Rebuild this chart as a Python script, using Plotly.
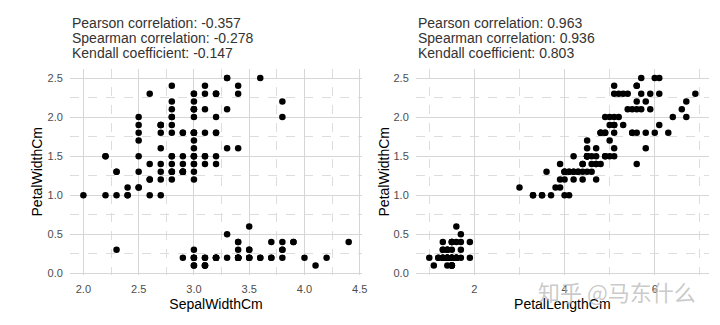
import plotly.graph_objects as go

# Iris data (UCI / Kaggle version)
sepal_width = [3.5,3.0,3.2,3.1,3.6,3.9,3.4,3.4,2.9,3.1,3.7,3.4,3.0,3.0,4.0,4.4,3.9,3.5,3.8,3.8,
               3.4,3.7,3.6,3.3,3.4,3.0,3.4,3.5,3.4,3.2,3.1,3.4,4.1,4.2,3.1,3.2,3.5,3.1,3.0,3.4,
               3.5,2.3,3.2,3.5,3.8,3.0,3.8,3.2,3.7,3.3,
               3.2,3.2,3.1,2.3,2.8,2.8,3.3,2.4,2.9,2.7,2.0,3.0,2.2,2.9,2.9,3.1,3.0,2.7,2.2,2.5,
               3.2,2.8,2.5,2.8,2.9,3.0,2.8,3.0,2.9,2.6,2.4,2.4,2.7,2.7,3.0,3.4,3.1,2.3,3.0,2.5,
               2.6,3.0,2.6,2.3,2.7,3.0,2.9,2.9,2.5,2.8,
               3.3,2.7,3.0,2.9,3.0,3.0,2.5,2.9,2.5,3.6,3.2,2.7,3.0,2.5,2.8,3.2,3.0,3.8,2.6,2.2,
               3.2,2.8,2.8,2.7,3.3,3.2,2.8,3.0,2.8,3.0,2.8,3.8,2.8,2.8,2.6,3.0,3.4,3.1,3.0,3.1,
               3.1,3.1,2.7,3.2,3.3,3.0,2.5,3.0,3.4,3.0]
petal_length = [1.4,1.4,1.3,1.5,1.4,1.7,1.4,1.5,1.4,1.5,1.5,1.6,1.4,1.1,1.2,1.5,1.3,1.4,1.7,1.5,
                1.7,1.5,1.0,1.7,1.9,1.6,1.6,1.5,1.4,1.6,1.6,1.5,1.5,1.4,1.5,1.2,1.3,1.5,1.3,1.5,
                1.3,1.3,1.3,1.6,1.9,1.4,1.6,1.4,1.5,1.4,
                4.7,4.5,4.9,4.0,4.6,4.5,4.7,3.3,4.6,3.9,3.5,4.2,4.0,4.7,3.6,4.4,4.5,4.1,4.5,3.9,
                4.8,4.0,4.9,4.7,4.3,4.4,4.8,5.0,4.5,3.5,3.8,3.7,3.9,5.1,4.5,4.5,4.7,4.4,4.1,4.0,
                4.4,4.6,4.0,3.3,4.2,4.2,4.2,4.3,3.0,4.1,
                6.0,5.1,5.9,5.6,5.8,6.6,4.5,6.3,5.8,6.1,5.1,5.3,5.5,5.0,5.1,5.3,5.5,6.7,6.9,5.0,
                5.7,4.9,6.7,4.9,5.7,6.0,4.8,4.9,5.6,5.8,6.1,6.4,5.6,5.1,5.6,6.1,5.6,5.5,4.8,5.4,
                5.6,5.1,5.1,5.9,5.7,5.2,5.0,5.2,5.4,5.1]
petal_width = [0.2,0.2,0.2,0.2,0.2,0.4,0.3,0.2,0.2,0.1,0.2,0.2,0.1,0.1,0.2,0.4,0.4,0.3,0.3,0.3,
               0.2,0.4,0.2,0.5,0.2,0.2,0.4,0.2,0.2,0.2,0.2,0.4,0.1,0.2,0.1,0.2,0.2,0.1,0.2,0.2,
               0.3,0.3,0.2,0.6,0.4,0.3,0.2,0.2,0.2,0.2,
               1.4,1.5,1.5,1.3,1.5,1.3,1.6,1.0,1.3,1.4,1.0,1.5,1.0,1.4,1.3,1.4,1.5,1.0,1.5,1.1,
               1.8,1.3,1.5,1.2,1.3,1.4,1.4,1.7,1.5,1.0,1.1,1.0,1.2,1.6,1.5,1.6,1.5,1.3,1.3,1.3,
               1.2,1.4,1.2,1.0,1.3,1.2,1.3,1.3,1.1,1.3,
               2.5,1.9,2.1,1.8,2.2,2.1,1.7,1.8,1.8,2.5,2.0,1.9,2.1,2.0,2.4,2.3,1.8,2.2,2.3,1.5,
               2.3,2.0,2.0,1.8,2.1,1.8,1.8,1.8,2.1,1.6,1.9,2.0,2.2,1.5,1.4,2.3,2.4,1.8,1.8,2.1,
               2.4,2.3,1.9,2.3,2.5,2.3,1.9,2.0,2.3,1.8]

left_stats = ["Pearson correlation: -0.357", "Spearman correlation: -0.278", "Kendall coefficient: -0.147"]
right_stats = ["Pearson correlation: 0.963", "Spearman correlation: 0.936", "Kendall coefficient: 0.803"]
watermark = "知乎 @马东什么"

FONT = "Liberation Sans, Arial, sans-serif"
W, H = 720, 325
ytop, ybot = 69.5, 278.3
ydom = [(H - ybot) / H, (H - ytop) / H]
x1dom = [70.6 / W, 364.5 / W]
x2dom = [418.9 / W, 713.6 / W]

fig = go.Figure()
fig.add_trace(go.Scatter(x=sepal_width, y=petal_width, mode="markers",
                         marker=dict(color="black", size=6.5), xaxis="x", yaxis="y",
                         showlegend=False, hoverinfo="skip"))
fig.add_trace(go.Scatter(x=petal_length, y=petal_width, mode="markers",
                         marker=dict(color="black", size=6.5), xaxis="x2", yaxis="y2",
                         showlegend=False, hoverinfo="skip"))

major = "#d6d6d6"
minorc = "#dddddd"
common = dict(showline=False, zeroline=False, showgrid=True, gridcolor=major, gridwidth=1,
              ticks="outside", ticklen=4, tickcolor="rgba(0,0,0,0)",
              tickfont=dict(family=FONT, size=11, color="#4d4d4d"),
              title_font=dict(family=FONT, size=14, color="black"))

ytickvals = [0, 0.5, 1.0, 1.5, 2.0, 2.5]
yticktext = ["0.0", "0.5", "1.0", "1.5", "2.0", "2.5"]
yminor = dict(tickvals=[0.25, 0.75, 1.25, 1.75, 2.25], showgrid=True,
              griddash="dash", gridcolor=minorc, gridwidth=1, ticks="")

fig.update_layout(
    width=W, height=H, margin=dict(l=0, r=0, t=0, b=0),
    paper_bgcolor="white", plot_bgcolor="white",
    xaxis=dict(domain=x1dom, range=[1.88, 4.52], tickvals=[2.0, 2.5, 3.0, 3.5, 4.0, 4.5],
               ticktext=["2.0", "2.5", "3.0", "3.5", "4.0", "4.5"], anchor="y",
               minor=dict(tickvals=[2.25, 2.75, 3.25, 3.75, 4.25], showgrid=True,
                          griddash="dash", gridcolor=minorc, gridwidth=1, ticks=""),
               title=dict(text="SepalWidthCm", standoff=5), **common),
    yaxis=dict(domain=ydom, range=[-0.02, 2.62], tickvals=ytickvals, ticktext=yticktext,
               anchor="x", minor=yminor,
               title=dict(text="PetalWidthCm", standoff=1), **common),
    xaxis2=dict(domain=x2dom, range=[0.705, 7.195], tickvals=[2, 4, 6], anchor="y2",
                minor=dict(tickvals=[1, 3, 5, 7], showgrid=True,
                           griddash="dash", gridcolor=minorc, gridwidth=1, ticks=""),
                title=dict(text="PetalLengthCm", standoff=5), **common),
    yaxis2=dict(domain=ydom, range=[-0.02, 2.62], tickvals=ytickvals, ticktext=yticktext,
                anchor="x2", minor=yminor,
                title=dict(text="PetalWidthCm", standoff=0), **common),
)

line_y = [23.5, 38.5, 53.5]
for xd, stats in ((x1dom, left_stats), (x2dom, right_stats)):
    for ly, s in zip(line_y, stats):
        fig.add_annotation(xref="paper", yref="paper", x=xd[0], y=1 - ly / H,
                           xanchor="left", yanchor="middle", align="left", showarrow=False,
                           text=s, font=dict(family=FONT, size=14, color="#333333"))

fig.add_annotation(xref="paper", yref="paper", x=703 / W, y=1 - 295 / H,
                   xanchor="right", yanchor="middle", showarrow=False,
                   text=watermark,
                   font=dict(family="Noto Sans CJK SC", size=22, color="rgba(185,185,185,0.75)"))

fig.write_html("out.html")
